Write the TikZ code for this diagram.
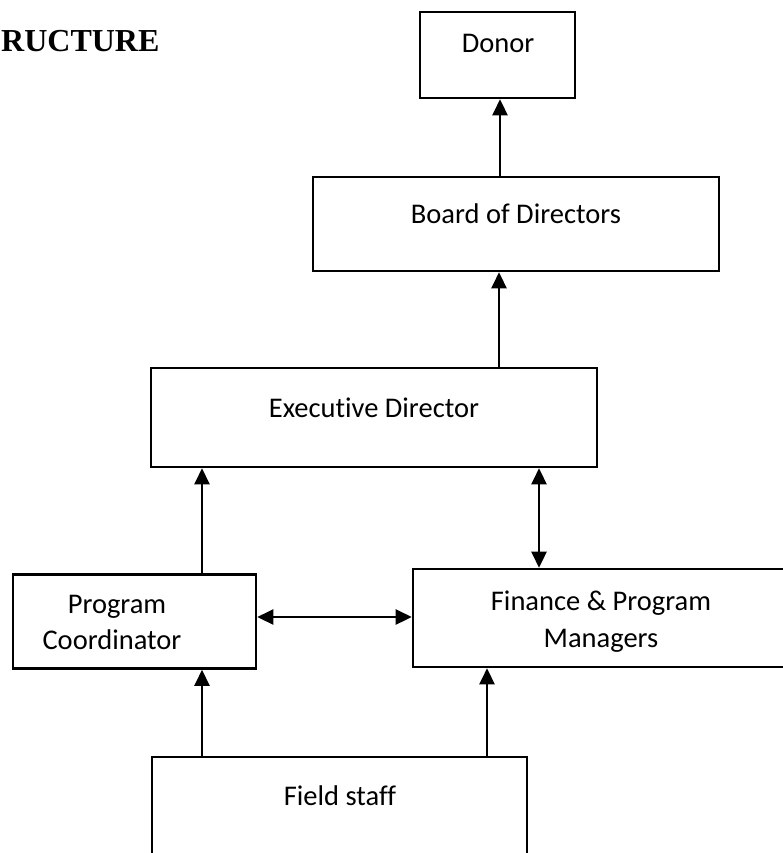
\documentclass[tikz,border=0pt]{standalone}
\usepackage{fontspec}
\setmainfont[Ligatures={NoCommon,NoRequired,NoContextual}]{Carlito}
\newfontfamily\titlefont{Liberation Serif}
\usetikzlibrary{arrows.meta}
\begin{document}
\begin{tikzpicture}[x=1pt,y=-1pt,
  box/.style={draw,line width=2.6pt,inner sep=0pt,rectangle},
  lbl/.style={anchor=base,inner sep=0pt,font=\fontsize{28.5}{36}\selectfont},
  conn/.style={line width=2.6pt,-{Triangle[length=16pt,width=15pt]}},
  conn2/.style={line width=2.6pt,{Triangle[length=16pt,width=15pt]}-{Triangle[length=16pt,width=15pt]}}]
\useasboundingbox (0,0) rectangle (782,853);
% title fragment
\node[anchor=base west,inner sep=0pt,font=\titlefont\bfseries\fontsize{32}{38}\selectfont] (title) at (1,52) {RUCTURE};
% boxes
\node[box,minimum width=155pt,minimum height=86pt] (donor) at (497.5,55) {};
\node[box,minimum width=406pt,minimum height=94pt] (board) at (516,224) {};
\node[box,minimum width=446pt,minimum height=99pt] (exec) at (374,417.5) {};
\node[box,minimum width=243pt,minimum height=94pt] (pc) at (134.5,621.5) {};
\node[box,minimum width=378pt,minimum height=98pt] (fin) at (602,618) {};
\node[box,minimum width=375pt,minimum height=120pt] (field) at (339.5,817) {};
% labels
\node[lbl] (tdonor) at (498,53) {Donor};
\node[lbl] (tboard) at (516,223) {Board of Directors};
\node[lbl] (texec) at (374,417) {Executive Director};
\node[lbl] (tpc1) at (117,613) {Program};
\node[lbl] (tpc2) at (112,649) {Coordinator};
\node[lbl] (tfin1) at (601,610) {Finance \& Program};
\node[lbl] (tfin2) at (601,647) {Managers};
\node[lbl] (tfield) at (340,805) {Field staff};
% connectors
\draw[conn] (board.north -| 500,0) -- (donor.south -| 500,0);
\draw[conn] (exec.north -| 499,0) -- (board.south -| 499,0);
\draw[conn] (pc.north -| 202,0) -- (exec.south -| 202,0);
\draw[conn2] (exec.south -| 539,0) -- (fin.north -| 539,0);
\draw[conn2] (pc.east |- 0,617) -- (fin.west |- 0,617);
\draw[conn] (field.north -| 202,0) -- (pc.south -| 202,0);
\draw[conn] (field.north -| 487,0) -- (fin.south -| 487,0);
\end{tikzpicture}
\end{document}
